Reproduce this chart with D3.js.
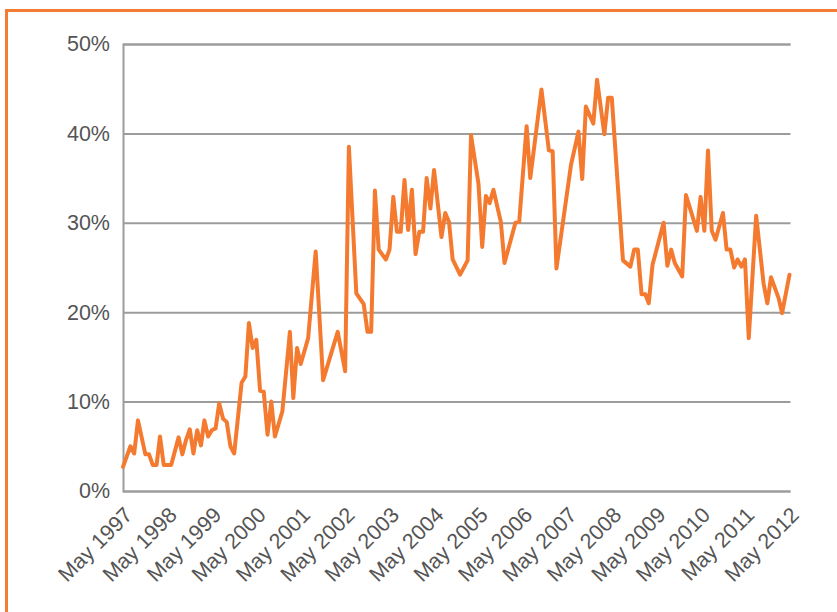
<!DOCTYPE html>
<html>
<head>
<meta charset="utf-8">
<script src="https://cdn.jsdelivr.net/npm/d3@7"></script>
<style>
    body { margin: 0; background: #fff; }
    svg { display: block; }
    text { font-family: Helvetica, "Liberation Sans", Arial, sans-serif; }
</style>
</head>
<body>
<svg width="837" height="612"></svg>
<script>
// month of each reading
const months = [
    "1997-05", "1997-07", "1997-08", "1997-09", "1997-11", "1997-12", "1998-01", "1998-02",
    "1998-03", "1998-04", "1998-06", "1998-08", "1998-09", "1998-10", "1998-11", "1998-12",
    "1999-01", "1999-02", "1999-03", "1999-04", "1999-05", "1999-06", "1999-07", "1999-08",
    "1999-09", "1999-10", "1999-11", "2000-01", "2000-02", "2000-03", "2000-04", "2000-05",
    "2000-06", "2000-07", "2000-08", "2000-09", "2000-10", "2000-12", "2001-02", "2001-03",
    "2001-04", "2001-05", "2001-07", "2001-09", "2001-11", "2002-03", "2002-05", "2002-06",
    "2002-08", "2002-10", "2002-11", "2002-12", "2003-01", "2003-02", "2003-04", "2003-05",
    "2003-06", "2003-07", "2003-08", "2003-09", "2003-10", "2003-11", "2003-12", "2004-01",
    "2004-02", "2004-03", "2004-04", "2004-05", "2004-07", "2004-08", "2004-09", "2004-10",
    "2004-12", "2005-02", "2005-03", "2005-05", "2005-06", "2005-07", "2005-08", "2005-09",
    "2005-11", "2005-12", "2006-02", "2006-03", "2006-04", "2006-06", "2006-07", "2006-10",
    "2006-12", "2007-01", "2007-02", "2007-06", "2007-08", "2007-09", "2007-10", "2007-12",
    "2008-01", "2008-03", "2008-04", "2008-05", "2008-08", "2008-10", "2008-11", "2008-12",
    "2009-01", "2009-02", "2009-03", "2009-04", "2009-07", "2009-08", "2009-09", "2009-10",
    "2009-12", "2010-01", "2010-04", "2010-05", "2010-06", "2010-07", "2010-08", "2010-09",
    "2010-11", "2010-12", "2011-01", "2011-02", "2011-03", "2011-04", "2011-05", "2011-06",
    "2011-08", "2011-10", "2011-11", "2011-12", "2012-02", "2012-03", "2012-05"
];

// share, in percent
const shares = [
    2.7, 5.0, 4.2, 7.9, 4.1, 4.1, 2.9, 2.9,
    6.1, 2.9, 2.9, 6.0, 4.1, 5.7, 6.9, 4.2,
    6.8, 5.1, 7.9, 6.1, 6.8, 7.0, 9.8, 8.1,
    7.7, 5.0, 4.2, 12.1, 12.8, 18.8, 16.0, 16.9,
    11.2, 11.1, 6.3, 10.0, 6.1, 8.9, 17.8, 10.4,
    16.0, 14.2, 17.1, 26.8, 12.4, 17.8, 13.4, 38.5,
    22.1, 20.9, 17.8, 17.8, 33.6, 27.0, 25.9, 27.0,
    32.9, 29.0, 29.0, 34.8, 29.2, 33.7, 26.5, 29.0,
    29.0, 35.0, 31.6, 35.9, 28.4, 31.1, 30.1, 25.9,
    24.2, 25.8, 39.8, 34.4, 27.3, 33.0, 32.2, 33.7,
    30.1, 25.5, 28.6, 30.0, 30.1, 40.8, 35.0, 44.9,
    38.1, 38.0, 24.9, 36.5, 40.2, 34.9, 43.0, 41.1,
    46.0, 39.9, 44.0, 44.0, 25.8, 25.1, 27.0, 27.0,
    22.0, 22.0, 21.0, 25.3, 30.0, 25.2, 27.0, 25.5,
    24.0, 33.1, 29.1, 32.9, 29.1, 38.1, 29.1, 28.1,
    31.1, 27.0, 27.0, 25.0, 25.9, 25.1, 25.9, 17.1,
    30.8, 23.2, 21.0, 23.9, 21.6, 19.9, 24.2
];

const yTicks = [0, 10, 20, 30, 40, 50];
const xTickYears = [1997, 1998, 1999, 2000, 2001, 2002, 2003, 2004, 2005, 2006, 2007, 2008, 2009, 2010, 2011, 2012];

const parseMonth = d3.timeParse("%Y-%m");
const data = months.map((m, i) => ({ date: parseMonth(m), value: shares[i] }));

let svg = d3.select("svg");

let attr_area = {
    left: 123,
    right: 789.5,
    top: 44,
    bottom: 491
};

// orange frame running off the page
svg.append("rect")
    .attr("x", 6.5)
    .attr("y", 10.5)
    .attr("width", 900)
    .attr("height", 700)
    .attr("fill", "none")
    .attr("stroke", "#f47c32")
    .attr("stroke-width", 3);

let scaleX = d3.scaleTime()
    .domain([parseMonth("1997-05"), parseMonth("2012-05")])
    .range([attr_area.left, attr_area.right]);

let scaleY = d3.scaleLinear()
    .domain([0, 50])
    .range([attr_area.bottom, attr_area.top]);

// y axis with grid lines
let gy = svg.append("g")
    .attr("transform", `translate(${attr_area.left}, 0)`)
    .call(d3.axisLeft(scaleY)
        .tickValues(yTicks)
        .tickSize(-(attr_area.right - attr_area.left + 1))
        .tickPadding(13)
        .tickFormat(d => d + "%"));
gy.select(".domain").attr("stroke", "#9c9c9c").attr("stroke-width", 2);
gy.selectAll(".tick line").attr("stroke", "#9c9c9c").attr("stroke-width", 2);
gy.selectAll(".tick text")
    .attr("fill", "#555")
    .style("font-size", "21.5px");

// x axis labels
let gx = svg.append("g")
    .attr("transform", `translate(0, ${attr_area.bottom})`)
    .call(d3.axisBottom(scaleX)
        .tickValues(xTickYears.map(y => parseMonth(y + "-05")))
        .tickSize(0)
        .tickFormat(d3.timeFormat("%b %Y")));
gx.select(".domain").remove();
gx.selectAll(".tick text")
    .attr("fill", "#555")
    .style("font-size", "21.5px")
    .style("text-anchor", "end")
    .attr("x", 0)
    .attr("y", 0)
    .attr("dy", "0.35em")
    .attr("transform", "translate(5, 20) rotate(-45)");

const line = d3.line()
    .x(d => scaleX(d.date))
    .y(d => scaleY(d.value));

svg.append("path")
    .datum(data)
    .attr("fill", "none")
    .attr("stroke", "#f47a30")
    .attr("stroke-width", 4)
    .attr("stroke-linejoin", "round")
    .attr("stroke-linecap", "round")
    .attr("d", line);
</script>
</body>
</html>
